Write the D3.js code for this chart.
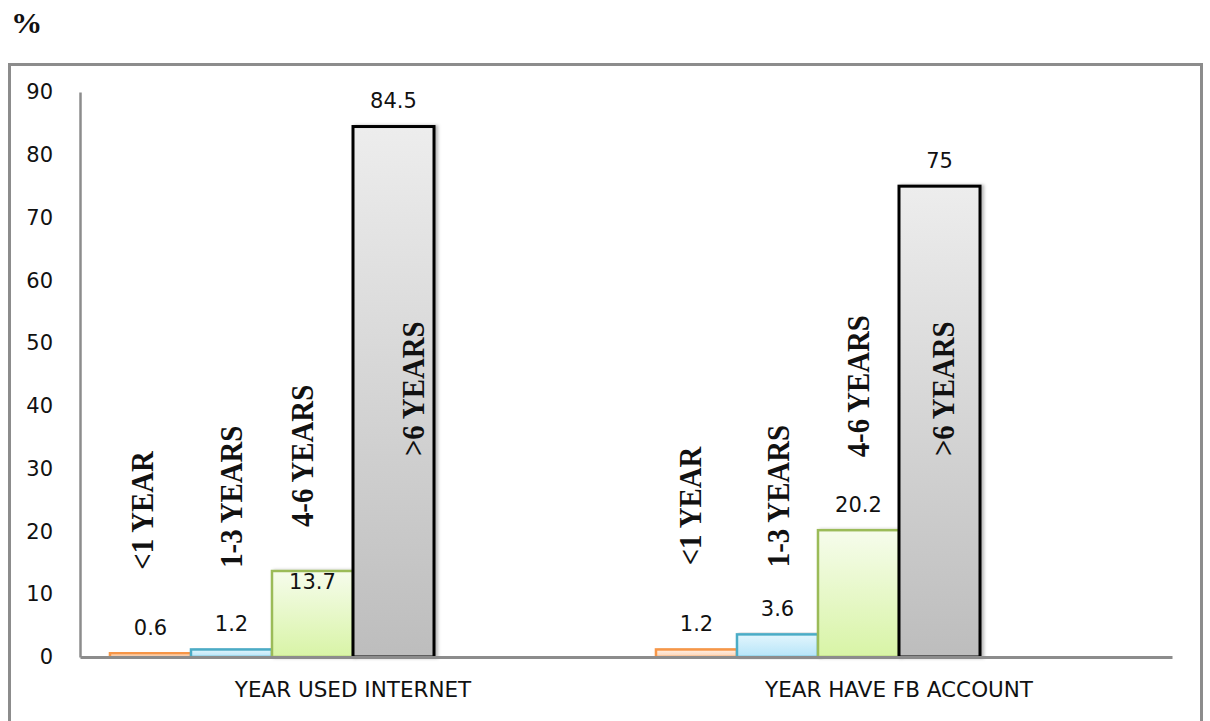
<!DOCTYPE html>
<html>
<head>
<meta charset="utf-8">
<script src="https://cdn.jsdelivr.net/npm/d3@7"></script>
<style>
  html, body { margin: 0; padding: 0; background: #fff; }
  svg { display: block; }
</style>
</head>
<body>
<svg id="chart" width="1210" height="721"></svg>
<script>
// Survey groups and the duration bands shown for each
const groups = ["YEAR USED INTERNET", "YEAR HAVE FB ACCOUNT"];
const bands = ["<1 YEAR", "1-3 YEARS", "4-6 YEARS", ">6 YEARS"];

// Percentage of respondents in each band
const usedInternet = [0.6, 1.2, 13.7, 84.5];
const haveFbAccount = [1.2, 3.6, 20.2, 75];

// Value-axis ticks
const yTicks = [0, 10, 20, 30, 40, 50, 60, 70, 80, 90];

// Vertical band captions: where each caption ends (in axis units) and a small sideways nudge
const captionBase = [[13.9, 14.2, 20.7, 32], [14.6, 14.3, 31.8, 32]];
const captionNudge = [[-9, -1, -11, 19], [-7, 0, -1, 3]];

const seriesByGroup = [usedInternet, haveFbAccount];

const palette = [
  { stroke: "#f79646", top: "#fff1e7", bottom: "#fcd2b2", width: 2.5 },
  { stroke: "#4bacc6", top: "#e3f6fd", bottom: "#b5e4f8", width: 2.5 },
  { stroke: "#9bbb59", top: "#f6fcec", bottom: "#d8f4a6", width: 2.5 },
  { stroke: "#000000", top: "#ededed", bottom: "#bdbdbd", width: 3 }
];

const svg = d3.select("#chart");
const axisGrey = "#8c8c8c";
const numFont = "'DejaVu Sans', sans-serif";
const serifFont = "'Liberation Serif', 'Times New Roman', serif";

// Gradients and soft shadow
const defs = svg.append("defs");
palette.forEach((p, i) => {
  const g = defs.append("linearGradient").attr("id", "fill" + i)
    .attr("x1", 0).attr("y1", 0).attr("x2", 0).attr("y2", 1);
  g.append("stop").attr("offset", "0%").attr("stop-color", p.top);
  g.append("stop").attr("offset", "100%").attr("stop-color", p.bottom);
});
defs.append("filter").attr("id", "shadow")
  .attr("x", "-10%").attr("y", "-10%").attr("width", "130%").attr("height", "120%")
  .append("feDropShadow")
  .attr("dx", 2.5).attr("dy", 0).attr("stdDeviation", 1.5)
  .attr("flood-color", "#000").attr("flood-opacity", 0.28);

// Outer frame
svg.append("rect")
  .attr("x", 9.5).attr("y", 64.5).attr("width", 1192).attr("height", 700)
  .attr("fill", "none").attr("stroke", axisGrey).attr("stroke-width", 3);

// Unit marker
svg.append("text")
  .attr("transform", "translate(11,33) scale(1.08,1)")
  .attr("font-family", serifFont).attr("font-weight", "bold")
  .attr("font-size", 29).attr("fill", "#111")
  .text("%");

// Scales
const plotLeft = 80, plotRight = 1172;
const y = d3.scaleLinear().domain([0, 90]).range([657, 92]);
const x0 = d3.scaleBand().domain(groups).range([plotLeft, plotRight]).padding(0);
// Six slots per group, the four bands filling the first four
const x1 = d3.scaleBand().domain(d3.range(6)).range([0, x0.bandwidth()])
  .paddingInner(0).paddingOuter(0.37);

// Y axis
const yAxis = svg.append("g")
  .attr("transform", `translate(${plotLeft},0)`)
  .call(d3.axisLeft(y).tickValues(yTicks).tickSize(0).tickPadding(27).tickFormat(d3.format("d")));
yAxis.select(".domain").attr("stroke", axisGrey).attr("stroke-width", 2.5);
yAxis.selectAll("text")
  .attr("font-family", numFont).attr("font-size", 21).attr("fill", "#111");

// Bars
const bars = [];
groups.forEach((g, gi) => {
  seriesByGroup[gi].forEach((v, si) => bars.push({ group: g, gi, si, value: v }));
});

const barG = svg.append("g");
barG.selectAll("rect")
  .data(bars)
  .join("rect")
  .attr("x", d => x0(d.group) + x1(d.si))
  .attr("y", d => y(d.value))
  .attr("width", x1.bandwidth())
  .attr("height", d => y(0) - y(d.value))
  .attr("fill", d => `url(#fill${d.si})`)
  .attr("stroke", d => palette[d.si].stroke)
  .attr("stroke-width", d => palette[d.si].width)
  .attr("filter", "url(#shadow)");

// X axis (drawn over the bar bases)
const xAxis = svg.append("g")
  .attr("transform", `translate(0,${y(0)})`)
  .call(d3.axisBottom(x0).tickSize(0).tickPadding(25));
xAxis.select(".domain").attr("stroke", axisGrey).attr("stroke-width", 3);
xAxis.selectAll("text")
  .attr("font-family", numFont).attr("font-size", 21.5).attr("fill", "#111");

// Value labels: above the bar, or tucked under the top edge where a caption sits above
const tucked = d => d.gi === 0 && d.si === 2;
svg.append("g").selectAll("text")
  .data(bars)
  .join("text")
  .attr("x", d => x0(d.group) + x1(d.si) + x1.bandwidth() / 2)
  .attr("y", d => tucked(d) ? y(d.value) + 11 : y(d.value) - 26)
  .attr("dy", "0.35em")
  .attr("text-anchor", "middle")
  .attr("font-family", numFont).attr("font-size", 21).attr("fill", "#111")
  .text(d => d3.format("")(d.value));

// Rotated band captions (slightly widened glyphs)
svg.append("g").selectAll("text")
  .data(bars)
  .join("text")
  .attr("transform", d => {
    const cx = x0(d.group) + x1(d.si) + x1.bandwidth() / 2 + captionNudge[d.gi][d.si];
    const cy = y(captionBase[d.gi][d.si]);
    return `translate(${cx},${cy}) rotate(-90) scale(1.03,1.15)`;
  })
  .attr("dy", "0.35em")
  .attr("text-anchor", "start")
  .attr("font-family", serifFont).attr("font-weight", "bold")
  .attr("font-size", 28).attr("fill", "#111")
  .text(d => bands[d.si]);
</script>
</body>
</html>
